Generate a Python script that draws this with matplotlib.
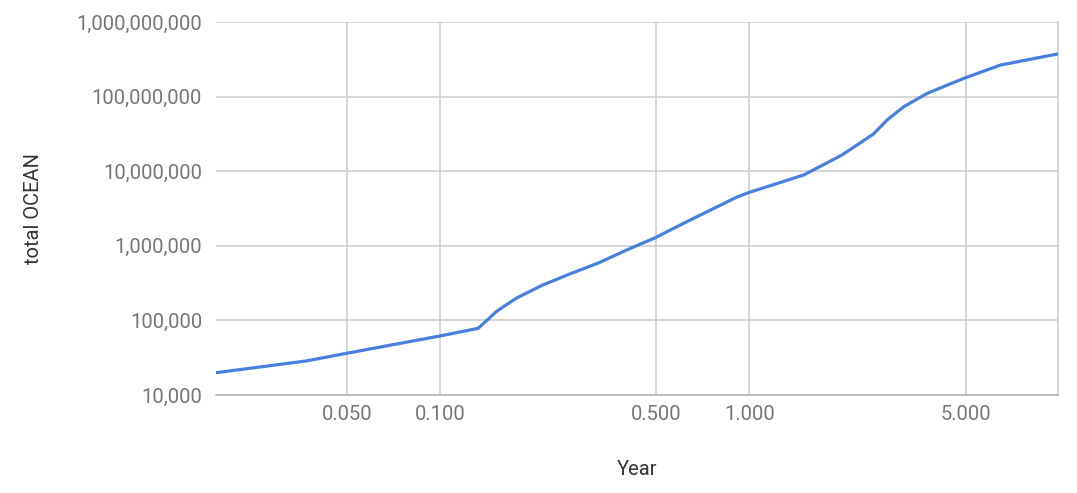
import matplotlib.pyplot as plt
from matplotlib.ticker import FuncFormatter, FixedLocator, NullLocator

plt.rcParams['font.family'] = ['Roboto', 'DejaVu Sans']

# Data (log-log)
year = [0.0189, 0.0370, 0.0499, 0.100, 0.133, 0.153, 0.177, 0.215, 0.263,
        0.325, 0.402, 0.500, 0.598, 0.730, 0.912, 1.000, 1.50, 1.995,
        2.52, 2.79, 3.16, 3.76, 4.94, 6.49, 9.9]
total_ocean = [19900, 28600, 36200, 61800, 78300, 133600, 199500, 298000,
               419000, 588000, 879000, 1300000, 1900000, 2860000, 4500000,
               5200000, 8900000, 16500000, 31500000, 48600000, 73300000,
               110600000, 175800000, 265000000, 372000000]

x_ticks = [0.05, 0.1, 0.5, 1.0, 5.0]
y_ticks = [1e4, 1e5, 1e6, 1e7, 1e8, 1e9]

fig = plt.figure(figsize=(10.77, 4.93), dpi=100)
ax = fig.add_axes([216/1077, 1 - 395/493, (1058-216)/1077, (395-22)/493])

ax.plot(year, total_ocean, color='#4a80dd', lw=2.3, solid_capstyle='round', zorder=3)

ax.set_xscale('log')
ax.set_yscale('log')
ax.set_xlim(0.0189, 9.95)
ax.set_ylim(1e4, 1e9)

ax.xaxis.set_major_locator(FixedLocator(x_ticks))
ax.xaxis.set_minor_locator(NullLocator())
ax.yaxis.set_major_locator(FixedLocator(y_ticks))
ax.yaxis.set_minor_locator(NullLocator())
ax.xaxis.set_major_formatter(FuncFormatter(lambda v, p: f"{v:.3f}"))
ax.yaxis.set_major_formatter(FuncFormatter(lambda v, p: f"{int(round(v)):,}"))

ax.grid(True, color='#cccccc', lw=1.1)
ax.tick_params(length=0, labelsize=14.5, labelcolor='#757575')
ax.tick_params(axis='y', pad=10)
ax.tick_params(axis='x', pad=7)

for s in ['top', 'left']:
    ax.spines[s].set_visible(False)
ax.spines['right'].set_color('#cccccc')
ax.spines['right'].set_linewidth(1.1)
ax.spines['bottom'].set_color('#b3b3b3')
ax.spines['bottom'].set_linewidth(1.2)

ax.set_xlabel('Year', fontsize=14.5, color='#333333', labelpad=26)
ax.set_ylabel('total OCEAN', fontsize=14.5, color='#333333', labelpad=24)

fig.savefig('out.png', dpi=100)
